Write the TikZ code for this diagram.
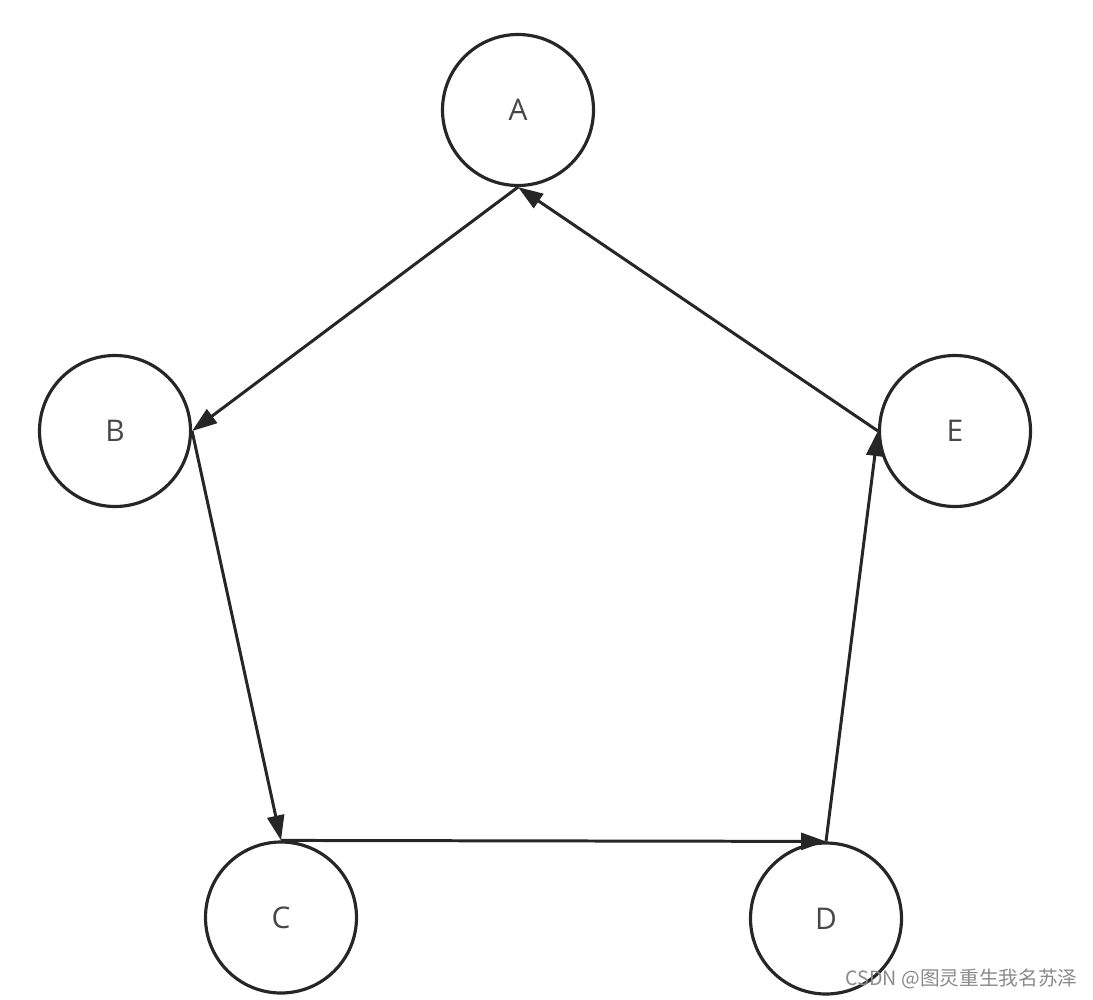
\documentclass[tikz,border=0pt]{standalone}
\usepackage{fontspec}
\setsansfont{Open Sans}
\newfontfamily\cjkfont{Noto Sans CJK SC}
\usetikzlibrary{arrows.meta}
\definecolor{ink}{HTML}{262626}
\definecolor{wmark}{HTML}{8A8A8A}
\tikzset{
  vert/.style={circle,draw=ink,line width=1.8pt,minimum size=3.02cm,inner sep=0pt,
    font=\sffamily\fontsize{17}{19}\selectfont,text=ink!85},
  link/.style={draw=ink,line width=1.7pt,-{Triangle[length=0.5cm,width=0.34cm]}},
}
\begin{document}
\begin{tikzpicture}
\useasboundingbox (0,0) rectangle (21.86,-19.98);
% vertices
\node[vert] (A) at (10.36,-2.20) {A};
\node[vert] (B) at (2.30,-8.62) {B};
\node[vert] (E) at (19.10,-8.62) {E};
\node[vert] (C) at (5.62,-18.35) {C};
\node[vert] (D) at (16.52,-18.37) {D};
% cycle
\draw[link] (A.south) -- (B.east);
\draw[link] (B.east) -- (C.north);
\draw[link] (C.north) -- (D.north);
\draw[link] (D.north) -- (E.west);
\draw[link] (E.west) -- (A.south);
\node[anchor=base east,inner sep=0pt,text=wmark,font=\cjkfont\fontsize{11.2}{13}\selectfont] (wm) at (21.56,-19.70) {CSDN @图灵重生我名苏泽};
\end{tikzpicture}
\end{document}
